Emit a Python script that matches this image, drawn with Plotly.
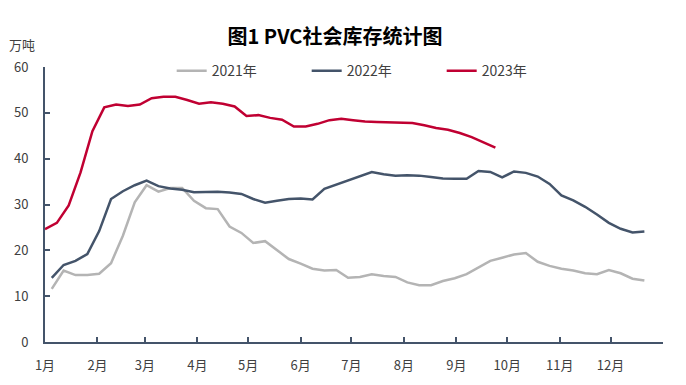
import pandas as pd
import plotly.graph_objects as go

# ---- data ----
month_labels = ["1月", "2月", "3月", "4月", "5月", "6月", "7月", "8月", "9月", "10月", "11月", "12月", ""]
month_starts = pd.date_range("2021-01-01", "2022-01-01", freq="MS")

inv_2021 = [11.6, 15.6, 14.6, 14.6, 14.9, 17.2, 23.2, 30.5, 34.2, 32.8,
            33.6, 33.6, 30.8, 29.2, 29.0, 25.2, 23.8, 21.6, 22.0, 20.0,
            18.1, 17.1, 16.0, 15.6, 15.7, 14.0, 14.2, 14.8, 14.4, 14.2,
            13.0, 12.4, 12.4, 13.3, 13.9, 14.8, 16.3, 17.7, 18.4, 19.1,
            19.4, 17.5, 16.6, 16.0, 15.6, 15.0, 14.8, 15.7, 15.0, 13.8, 13.4]

inv_2022 = [14.0, 16.8, 17.7, 19.2, 24.2, 31.2, 32.9, 34.2, 35.2, 34.0,
            33.5, 33.2, 32.7, 32.7, 32.8, 32.6, 32.3, 31.2, 30.4, 30.8,
            31.2, 31.3, 31.1, 33.4, 34.3, 35.2, 36.2, 37.1, 36.6, 36.3,
            36.4, 36.3, 36.0, 35.7, 35.6, 35.6, 37.3, 37.1, 35.9, 37.2,
            36.9, 36.1, 34.5, 32.0, 30.9, 29.5, 27.8, 26.0, 24.7, 23.9, 24.1]

inv_2023 = [24.6, 26.0, 29.8, 37.0, 46.0, 51.2, 51.8, 51.5, 51.8, 53.2,
            53.5, 53.5, 52.8, 52.0, 52.3, 52.0, 51.4, 49.3, 49.5, 48.9,
            48.5, 47.0, 47.0, 47.6, 48.4, 48.7, 48.4, 48.1, 48.0, 47.9,
            47.9, 47.8, 47.3, 46.7, 46.3, 45.6, 44.7, 43.6, 42.4]

# weekly observation dates mapped onto a common (non-leap) calendar year
dates_2021 = pd.date_range("2021-01-05", periods=len(inv_2021), freq="7D")
dates_2022 = pd.date_range("2021-01-05", periods=len(inv_2022), freq="7D")
dates_2023 = pd.date_range("2021-01-01", periods=len(inv_2023), freq="7D")

FONT = "Noto Sans CJK SC"
AXIS_COLOR = "#44546A"

fig = go.Figure()
fig.add_trace(go.Scatter(x=dates_2021, y=inv_2021, mode="lines", name="2021年",
                         line=dict(color="#B4B4B4", width=2.5)))
fig.add_trace(go.Scatter(x=dates_2022, y=inv_2022, mode="lines", name="2022年",
                         line=dict(color="#44546A", width=2.5)))
fig.add_trace(go.Scatter(x=dates_2023, y=inv_2023, mode="lines", name="2023年",
                         line=dict(color="#C00032", width=2.5)))

# page body has an 8px margin, so the figure is 678x377 and offsets compensate
fig.update_layout(
    width=678, height=377,
    margin=dict(l=37, r=23, t=59, b=43, autoexpand=False),
    paper_bgcolor="white", plot_bgcolor="white",
    font=dict(family=FONT, size=13, color="#404040"),
    title=dict(text="<b>图1 PVC社会库存统计图</b>", x=327 / 678, xanchor="center",
               y=1 - 29 / 377, yanchor="middle", yref="container",
               font=dict(family=FONT, size=20, color="#000000")),
    showlegend=True,
    legend=dict(orientation="h", x=0.205, xanchor="left", y=0.985, yanchor="middle",
                entrywidth=90, entrywidthmode="pixels",
                font=dict(family=FONT, size=14, color="#404040"),
                bgcolor="rgba(0,0,0,0)"),
    xaxis=dict(type="date", range=["2021-01-01", "2022-01-01"],
               tickmode="array", tickvals=month_starts, ticktext=month_labels,
               ticks="inside", ticklen=5, tickwidth=2, tickcolor=AXIS_COLOR,
               showline=True, linecolor=AXIS_COLOR, linewidth=2,
               showgrid=False, zeroline=False, automargin=False,
               tickfont=dict(family=FONT, size=13, color="#404040"),
               ticklabelstandoff=10),
    yaxis=dict(range=[0, 60], dtick=10, tick0=0,
               ticks="inside", ticklen=5, tickwidth=2, tickcolor=AXIS_COLOR,
               showline=True, linecolor=AXIS_COLOR, linewidth=2,
               showgrid=False, zeroline=False, automargin=False,
               tickfont=dict(family=FONT, size=13, color="#404040"),
               ticklabelstandoff=12),
    annotations=[dict(text="万吨", xref="paper", yref="paper",
                      x=(22 - 45) / 618, y=(342 - 45) / 275,
                      xanchor="center", yanchor="middle", showarrow=False,
                      font=dict(family=FONT, size=13, color="#404040"))],
)

fig.write_html("out.html")
